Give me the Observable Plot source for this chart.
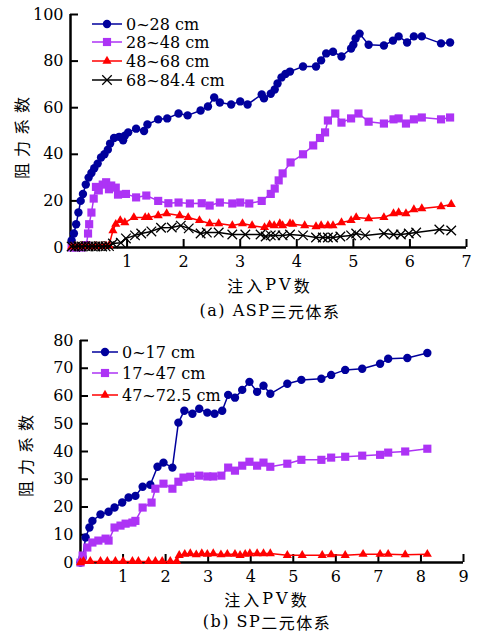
<!DOCTYPE html>
<html><head><meta charset="utf-8">
<script src="https://cdn.jsdelivr.net/npm/d3@7"></script>
<script src="https://cdn.jsdelivr.net/npm/@observablehq/plot@0.6"></script>
<style>
body{margin:0;background:#fff;}
#wrap{position:relative;width:477px;height:634px;font-family:"DejaVu Serif","Liberation Serif",serif;color:#000;}
.fig{position:absolute;left:0;}
.txt{position:absolute;transform:translate(-50%,-50%);white-space:nowrap;line-height:1;font-size:16px;letter-spacing:1.5px;}
.ylab{position:absolute;transform:translate(-50%,-50%) rotate(-90deg);white-space:nowrap;line-height:1;font-size:16px;letter-spacing:6px;font-family:"Noto Sans CJK SC",sans-serif;}
.cjk{font-family:"Noto Sans CJK SC",sans-serif;display:inline-block;line-height:1;vertical-align:top;}
</style></head><body><div id="wrap"></div>
<script>
const SERIF = '"DejaVu Serif","Liberation Serif",serif';
// ---------- Panel (a): ASP三元体系 ----------
const aLabels = ["0~28 cm", "28~48 cm", "48~68 cm", "68~84.4 cm"];
const aXTicks = [1, 2, 3, 4, 5, 6, 7];
const aYTicks = [0, 20, 40, 60, 80, 100];
const a0_28 = [[0.02,3],[0.06,6],[0.1,10],[0.14,15],[0.18,20],[0.22,23],[0.27,27],[0.32,30],[0.37,32],[0.42,34],[0.48,36],[0.54,38.6],[0.6,40],[0.66,42],[0.7,44.6],[0.77,47],[0.86,47.5],[0.93,46],[0.96,48],[1.02,49.4],[1.16,51],[1.3,50],[1.36,52.8],[1.55,55],[1.71,55.4],[1.91,57.5],[2.07,56.7],[2.3,58.8],[2.43,60.5],[2.54,64.4],[2.64,62.2],[2.84,61.4],[3.0,62.7],[3.13,61.4],[3.38,65.7],[3.42,64],[3.54,66],[3.61,67.8],[3.66,70.4],[3.73,73],[3.8,74.5],[3.88,75.5],[4.11,77.7],[4.34,77.7],[4.43,80.3],[4.52,83.3],[4.64,84],[4.79,82],[4.96,85.4],[5.0,87],[5.04,89.7],[5.11,91.8],[5.27,87],[5.54,86.7],[5.7,88.8],[5.8,90.6],[5.95,88],[6.07,90.6],[6.21,90.6],[6.55,87.6],[6.71,88]];
const a28_48 = [[0.02,0],[0.1,0],[0.2,0],[0.28,1],[0.31,6],[0.33,10],[0.37,15],[0.41,21],[0.45,26],[0.5,24.5],[0.57,27],[0.63,28],[0.68,25],[0.72,26.6],[0.8,25.7],[0.84,22.7],[0.98,23],[1.16,21.5],[1.34,22.3],[1.55,20],[1.73,19],[1.91,19.3],[2.11,18.9],[2.32,19],[2.46,18],[2.64,19.3],[2.86,18.9],[3.0,19.3],[3.16,18.9],[3.38,20],[3.54,23],[3.61,25.3],[3.68,28.8],[3.75,31.8],[3.89,36.5],[4.11,40],[4.29,43.8],[4.41,47],[4.5,49.4],[4.55,54.5],[4.68,57.5],[4.79,53.6],[4.96,55.4],[5.09,57.5],[5.27,54],[5.54,53.2],[5.71,55],[5.8,55.4],[5.93,53.2],[6.07,55],[6.21,55.8],[6.55,55],[6.71,55.8]];
const a48_68 = [[0.02,0.3],[0.08,0.5],[0.14,0.3],[0.2,0.6],[0.26,0.4],[0.32,0.5],[0.38,0.3],[0.44,0.5],[0.5,0.4],[0.56,0.5],[0.62,0.6],[0.68,0.8],[0.75,7.3],[0.8,10],[0.88,11.6],[0.96,10.7],[1.12,12.9],[1.32,12.9],[1.38,12.9],[1.55,13.7],[1.7,14.6],[1.93,13.7],[2.08,12.9],[2.28,11.6],[2.46,10.3],[2.62,10.3],[2.86,9.4],[3.04,10.3],[3.21,9.4],[3.43,8.6],[3.52,9.8],[3.6,9.4],[3.7,10.3],[3.75,9.4],[3.88,10.3],[3.93,10],[4.14,9.4],[4.34,9],[4.43,9.4],[4.55,9.4],[4.64,9.4],[4.79,10.7],[4.96,11.6],[5.05,12.9],[5.27,12.4],[5.54,12.9],[5.71,14.6],[5.8,15],[5.93,14.6],[6.07,16.3],[6.21,16.7],[6.55,17.6],[6.73,18.5]];
const a68_84 = [[0.02,0.4],[0.08,0.3],[0.14,0.5],[0.2,0.4],[0.26,0.6],[0.32,0.4],[0.38,0.5],[0.44,0.4],[0.5,0.6],[0.56,0.4],[0.62,0.5],[0.68,0.6],[0.75,1.7],[0.89,2],[0.98,3.9],[1.14,5.2],[1.25,6],[1.43,6.9],[1.6,8.5],[1.79,8.6],[1.95,9.4],[2.09,8.2],[2.3,6],[2.41,6.4],[2.62,6.4],[2.86,5.6],[3.09,5.6],[3.36,5.6],[3.45,4.7],[3.54,5.2],[3.62,5.2],[3.75,5.2],[3.88,5.6],[4.11,5.2],[4.34,4.3],[4.46,4.3],[4.55,4.3],[4.64,4.3],[4.77,4.7],[4.96,5.2],[5.05,6],[5.21,5.2],[5.54,6],[5.71,5.6],[5.84,5.6],[5.98,6],[6.11,6.4],[6.52,7.7],[6.73,7.3]];

// ---------- Panel (b): SP二元体系 ----------
const bLabels = ["0~17 cm", "17~47 cm", "47~72.5 cm"];
const bXTicks = [1, 2, 3, 4, 5, 6, 7, 8, 9];
const bYTicks = [0, 10, 20, 30, 40, 50, 60, 70, 80];
const b0_17 = [[0.0,0],[0.05,1.8],[0.12,9],[0.21,12.6],[0.28,15],[0.47,17.3],[0.66,18.3],[0.8,19.8],[0.98,21.6],[1.13,23.4],[1.29,24],[1.46,27.3],[1.64,28],[1.81,34.5],[1.95,36],[2.16,34.2],[2.3,50.4],[2.44,54.7],[2.63,53.6],[2.79,55.4],[2.98,54],[3.15,53.6],[3.33,54.7],[3.47,60.4],[3.63,59.4],[3.8,62.2],[3.97,65.1],[4.15,61.5],[4.3,63.7],[4.46,60.8],[4.86,64.4],[5.19,65.8],[5.66,66.2],[5.89,67.6],[6.22,69.4],[6.62,69.8],[7.04,71.6],[7.23,73.4],[7.68,73.7],[8.15,75.5]];
const b17_47 = [[0.0,0],[0.05,2.5],[0.16,5.4],[0.28,7.2],[0.42,7.9],[0.59,8.6],[0.66,7.9],[0.8,12.6],[0.94,13.3],[1.06,14],[1.22,14.4],[1.29,15],[1.46,19.8],[1.67,21.6],[1.76,26.6],[1.95,28.4],[2.16,26.6],[2.3,29.1],[2.42,30.6],[2.58,30.9],[2.79,31.3],[2.98,31],[3.12,31],[3.31,31.3],[3.47,34.2],[3.63,33.1],[3.8,34.9],[3.97,36.3],[4.15,34.9],[4.3,36],[4.46,34.5],[4.86,35.6],[5.19,37],[5.66,37],[5.89,37.8],[6.22,38.1],[6.62,38.5],[7.04,38.8],[7.23,39.6],[7.63,40],[8.15,41]];
const b47_72 = [[0.0,0],[0.07,0.4],[0.23,0.4],[0.47,0.4],[0.63,0.4],[0.82,0.4],[1.0,0.4],[1.22,0.4],[1.36,0.4],[1.6,0.4],[1.76,0.4],[1.92,0.4],[2.11,0.4],[2.26,0.4],[2.32,2.6],[2.45,3.0],[2.58,3.2],[2.72,2.8],[2.85,3.2],[2.98,3.0],[3.12,3.2],[3.3,2.8],[3.45,3.0],[3.63,3.0],[3.75,2.6],[3.87,3.0],[3.98,3.2],[4.15,3.2],[4.3,3.2],[4.46,3.2],[4.86,2.6],[5.21,2.6],[5.68,2.6],[5.89,2.8],[6.22,2.6],[6.64,3.0],[7.04,3.0],[7.23,3.0],[7.63,2.8],[8.15,3.0]];

const colors = ["#00009c", "#ad33f5", "#ff0000", "#000000"];
const symbols = ["circle", "square", "triangle", "times"];
const radii = [4.2, 4.6, 3.4, 4.4];

function markerMarks(data, i) {
  const sym = symbols[i];
  if (sym === "times") {
    return Plot.dot(data, {x: "x", y: "y", symbol: "times", r: radii[i], stroke: colors[i], strokeWidth: 1.3, fill: "none"});
  }
  return Plot.dot(data, {x: "x", y: "y", symbol: sym, r: radii[i], fill: colors[i], stroke: "none"});
}

function panel({series, xDomain, yDomain, xTicks, yTicks, width, height, ml, mr, mt, mb}) {
  const pw = width - ml - mr, ph = height - mt - mb;
  const marks = [
    Plot.ruleY([yDomain[0]], {stroke: "#000", strokeWidth: 2.5}),
    Plot.ruleX([xDomain[0]], {stroke: "#000", strokeWidth: 2.5}),
    Plot.tickX(xTicks, {x: d => d, stroke: "#000", strokeWidth: 2, insetTop: ph - 8}),
    Plot.tickY(yTicks, {y: d => d, stroke: "#000", strokeWidth: 2, insetRight: pw - 8}),
    Plot.axisX(xTicks, {tickSize: 0, tickPadding: 8, fontSize: 16, fontFamily: SERIF}),
    Plot.axisY(yTicks, {tickSize: 0, tickPadding: 7, fontSize: 16, fontFamily: SERIF})
  ];
  series.forEach((s, i) => {
    const data = s.map(([x, y]) => ({x, y}));
    marks.push(Plot.line(data, {x: "x", y: "y", stroke: colors[i], strokeWidth: 1.5}));
    marks.push(markerMarks(data, i));
  });
  return Plot.plot({
    width, height, marginLeft: ml, marginRight: mr, marginTop: mt, marginBottom: mb,
    x: {domain: xDomain, label: null},
    y: {domain: yDomain, label: null},
    style: {fontFamily: SERIF, fontSize: "16px", color: "#000", background: "transparent", overflow: "visible"},
    marks
  });
}

const wrap = document.getElementById("wrap");

const figA = panel({series: [a0_28, a28_48, a48_68, a68_84], xDomain: [0, 7], yDomain: [0, 100],
  xTicks: aXTicks, yTicks: aYTicks, width: 477, height: 278, ml: 70, mr: 11, mt: 14, mb: 31});
figA.classList.add("fig"); figA.style.top = "0px";
wrap.appendChild(figA);

const figB = panel({series: [b0_17, b17_47, b47_72], xDomain: [0, 9], yDomain: [0, 80],
  xTicks: bXTicks, yTicks: bYTicks, width: 477, height: 272, ml: 80, mr: 14, mt: 20, mb: 30});
figB.classList.add("fig"); figB.style.top = "320px";
wrap.appendChild(figB);

function addText(html, cx, cy, cls, ls) {
  const d = document.createElement("div");
  d.className = cls || "txt";
  d.style.left = cx + "px"; d.style.top = cy + "px";
  if (ls != null) d.style.letterSpacing = ls + "px";
  d.innerHTML = html;
  wrap.appendChild(d);
}
addText('<span class="cjk">注入</span>PV<span class="cjk">数</span>', 270, 285, "txt", 3);
addText('(a) ASP<span class="cjk">三元体系</span>', 270, 311);
addText('<span class="cjk">注入</span>PV<span class="cjk">数</span>', 267, 599, "txt", 3);
addText('(b) SP<span class="cjk">二元体系</span>', 267, 622);
addText('阻力系数', 21, 135, "ylab");
addText('阻力系数', 25, 453, "ylab");

// legends
const svg = d3.select(wrap).append("svg").attr("width", 477).attr("height", 634)
  .style("position", "absolute").style("left", 0).style("top", 0);
function legend(labels, x0, x1, tx, ys) {
  labels.forEach((lab, i) => {
    const g = svg.append("g");
    g.append("line").attr("x1", x0).attr("x2", x1).attr("y1", ys[i]).attr("y2", ys[i])
      .attr("stroke", colors[i]).attr("stroke-width", 1.5);
    const cx = (x0 + x1) / 2;
    if (symbols[i] === "circle") {
      g.append("circle").attr("cx", cx).attr("cy", ys[i]).attr("r", radii[i]).attr("fill", colors[i]);
    } else {
      const t = {square: d3.symbolSquare, triangle: d3.symbolTriangle, times: d3.symbolTimes}[symbols[i]];
      const p = g.append("path").attr("transform", `translate(${cx},${ys[i]})`)
        .attr("d", d3.symbol(t, Math.PI * radii[i] * radii[i])());
      if (symbols[i] === "times") p.attr("fill", "none").attr("stroke", colors[i]).attr("stroke-width", 1.3);
      else p.attr("fill", colors[i]);
    }
    g.append("text").attr("x", tx).attr("y", ys[i]).attr("dy", "0.35em")
      .style("font-family", SERIF).attr("font-size", 16)
      .text(lab);
  });
}
legend(aLabels, 92, 122, 126, [24, 42, 61, 80]);
legend(bLabels, 92, 118, 122, [352, 373, 395]);
</script></body></html>
